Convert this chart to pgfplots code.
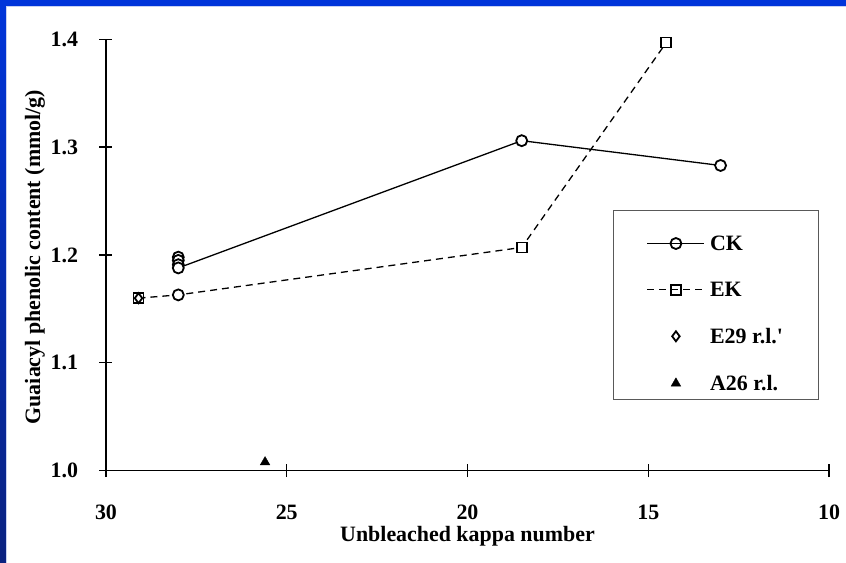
\documentclass[border=0pt]{standalone}
\usepackage{fontspec}
\setmainfont{Liberation Serif}
\usepackage{pgfplots}
\pgfplotsset{compat=1.18}
\definecolor{bandtop}{HTML}{0035DA}
\definecolor{bandbot}{HTML}{0A2280}
\definecolor{lightband}{HTML}{C8D2F2}
\pgfplotsset{
  myleg/.style={legend image code/.code={\draw[mark repeat=2,mark phase=2,##1] plot coordinates {(0bp,0bp) (28.5bp,0bp) (57bp,0bp)};}},
}
\begin{document}
\begin{tikzpicture}
\begin{axis}[
  scale only axis, width=723bp, height=431.4bp,
  xmin=10, xmax=30, ymin=1.0, ymax=1.4,
  x dir=reverse,
  axis x line=bottom, axis y line=left,
  axis line style={-, line width=1.3bp, black},
  xtick={10,15,20,25,30}, ytick={1.0,1.1,1.2,1.3,1.4},
  tick align=center, major tick length=13bp,
  every tick/.style={line width=1.3bp, black},
  /pgf/number format/assume math mode=true,
  tick label style={font=\fontsize{22}{26}\selectfont\bfseries},
  yticklabel style={anchor=east, xshift=-18bp, /pgf/number format/.cd, fixed, fixed zerofill, precision=1},
  xticklabel style={anchor=base, yshift=-42bp},
  xlabel={Unbleached kappa number},
  ylabel={Guaiacyl phenolic content (mmol/g)},
  label style={font=\fontsize{22}{26}\selectfont\bfseries},
  xlabel style={at={(axis cs:20,1.0)}, anchor=base, yshift=-71bp},
  ylabel style={at={([xshift=-71bp]axis cs:30,1.198)}, anchor=center},
  clip=false,
  legend style={at={(axis cs:10.3,1.2201)}, anchor=north east, draw=none, fill=none,
    font=\fontsize{22}{26}\selectfont\bfseries, nodes={inner sep=2bp},
    inner xsep=33bp, inner ysep=0bp, row sep=26.3bp, column sep=3bp},
  legend cell align=left,
]
% legend images
\addlegendimage{myleg, black, line width=1.3bp, mark=o, mark size=5.5bp, mark options={solid, line width=1.8bp, fill=white}}
\addlegendentry{CK}
\addlegendimage{myleg, black, line width=1.3bp, dash pattern=on 7bp off 5bp, mark=square, mark size=5bp, mark options={solid, line width=1.8bp, fill=white}}
\addlegendentry{EK}
\addlegendimage{myleg, only marks, black, mark=diamond, mark size=5bp, mark options={solid, line width=1.8bp}}
\addlegendentry{E29 r.l.\textquotesingle}
\addlegendimage{myleg, only marks, black, mark=triangle*, mark size=5.5bp}
\addlegendentry{A26 r.l.}

% legend frame
\draw[black!65, line width=0.9bp] (axis cs:15.975,1.0656) rectangle (axis cs:10.30,1.2417);

% EK dashed line
\addplot[forget plot, black, line width=1.3bp, dash pattern=on 7bp off 5bp, mark=none]
  coordinates {(29.1,1.160) (28,1.163) (18.5,1.207) (14.5,1.397)};
% CK solid line
\addplot[forget plot, black, line width=1.3bp, mark=none]
  coordinates {(28,1.188) (18.5,1.306) (13,1.283)};
% EK squares
\addplot[forget plot, only marks, black, mark=square*, mark size=5bp, mark options={line width=1.8bp, fill=white}]
  coordinates {(29.1,1.160) (18.5,1.207) (14.5,1.397)};
% CK circles
\addplot[forget plot, only marks, black, mark=*, mark size=5.5bp, mark options={line width=1.8bp, fill=white}]
  coordinates {(28,1.198) (28,1.195) (28,1.191) (28,1.188) (18.5,1.306) (13,1.283) (28,1.163)};
% E29 r.l.'
\addplot[forget plot, only marks, black, mark=diamond, mark size=5bp, mark options={line width=1.8bp}]
  coordinates {(29.1,1.160)};
% A26 r.l.
\addplot[forget plot, only marks, black, mark=triangle*, mark size=5.5bp]
  coordinates {(25.6,1.008)};

\coordinate (O) at (axis cs:30,1.0);
\end{axis}
\pgfresetboundingbox
\begin{scope}[shift={(O)}, x=1bp, y=1bp]
  \useasboundingbox (-106,-92.3) rectangle (740,470.7);
  \fill[top color=bandtop, bottom color=bandbot] (-106,-92.3) rectangle (-100,470.7);
  \fill[bandtop] (-106,464.7) rectangle (740,470.7);
  \fill[lightband] (-100,-92.3) rectangle (-99,464.7);
  \fill[lightband] (-100,463.7) rectangle (740,464.7);
\end{scope}
\end{tikzpicture}
\end{document}
